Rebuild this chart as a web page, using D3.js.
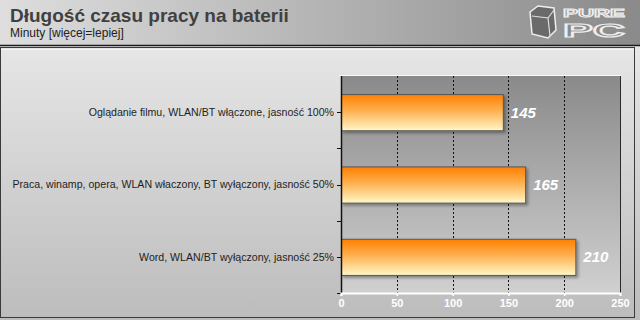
<!DOCTYPE html>
<html>
<head>
    <style>
        body { margin: 0; background: #fff; }
        svg { display: block; font-family: Arial, "Liberation Sans", sans-serif; }
        .cat-label { font-size: 10.6px; fill: #1e1e1e; }
        .val-label { font-size: 15px; font-weight: bold; font-style: italic; fill: #fff; }
        .x-axis text { font-size: 11px; font-weight: bold; fill: #fff; }
    </style>
</head>
<body>
    <div id="chart"></div>
    <script src="https://d3js.org/d3.v7.min.js"></script>
    <script>
        // chart data
        const categories = [
            "Oglądanie filmu, WLAN/BT włączone, jasność 100%",
            "Praca, winamp, opera, WLAN właczony, BT wyłączony, jasność 50%",
            "Word, WLAN/BT wyłączony, jasność 25%"
        ];
        const values = [145, 165, 210];
        const xTicks = [0, 50, 100, 150, 200, 250];
        const title = "Długość czasu pracy na baterii";
        const subtitle = "Minuty [więcej=lepiej]";

        const width = 640, height = 320;
        const plot = { left: 341, right: 620, top: 76, bottom: 293 };

        const svg = d3.select("#chart").append("svg")
            .attr("width", width)
            .attr("height", height);

        const defs = svg.append("defs");

        function grad(id, x2, y2, stops) {
            const g = defs.append("linearGradient")
                .attr("id", id)
                .attr("x1", 0).attr("y1", 0)
                .attr("x2", x2).attr("y2", y2);
            stops.forEach(s => g.append("stop").attr("offset", s[0]).attr("stop-color", s[1]));
        }
        grad("headerGrad", 1, 0, [[0, "#dedede"], [0.5, "#b4b4b4"], [1, "#8a8a8a"]]);
        grad("bodyGrad", 0, 1, [[0, "#e6e6e6"], [1, "#bcbcbc"]]);
        grad("plotGrad", 0, 1, [[0, "#8a8a8a"], [1, "#d0d0d0"]]);
        grad("barGrad", 0, 1, [[0, "#ff8000"], [0.45, "#ffb050"], [1, "#fff8c8"]]);

        const shadow = defs.append("filter").attr("id", "shadow")
            .attr("x", "-10%").attr("y", "-30%").attr("width", "130%").attr("height", "170%");
        shadow.append("feDropShadow")
            .attr("dx", 2).attr("dy", 2).attr("stdDeviation", 1.5)
            .attr("flood-color", "#000").attr("flood-opacity", 0.35);

        // background body
        svg.append("rect")
            .attr("x", 0).attr("y", 46).attr("width", width).attr("height", height - 46)
            .attr("fill", "url(#bodyGrad)");
        svg.append("rect")
            .attr("x", 0.5).attr("y", 47.5).attr("width", 634).attr("height", 270)
            .attr("fill", "none").attr("stroke", "#3a3a3a").attr("stroke-width", 1);
        svg.append("line")
            .attr("x1", 1).attr("x2", 634).attr("y1", 49.5).attr("y2", 49.5)
            .attr("stroke", "#f4f4f4");

        // header
        svg.append("rect")
            .attr("x", 0).attr("y", 0).attr("width", width).attr("height", 45)
            .attr("fill", "url(#headerGrad)");
        svg.append("line")
            .attr("x1", 0).attr("x2", width).attr("y1", 45.5).attr("y2", 45.5)
            .attr("stroke", "#1a1a1a").attr("stroke-width", 1.5);

        svg.append("text")
            .attr("x", 10).attr("y", 22)
            .style("font-size", "19px").style("font-weight", "bold").style("fill", "#404040")
            .text(title);
        svg.append("text")
            .attr("x", 10).attr("y", 37)
            .style("font-size", "12px").style("fill", "#222")
            .text(subtitle);

        // logo
        const logo = svg.append("g").attr("transform", "translate(528,4)");
        logo.append("path")
            .attr("d", "M2,8 L10,2 L26,4 L28,26 L20,34 L4,30 Z")
            .attr("fill", "#6a6a6a").attr("stroke", "#eee").attr("stroke-width", 1.5);
        logo.append("path")
            .attr("d", "M4,12 L20,14 L22,32 M20,14 L26,6")
            .attr("fill", "none").attr("stroke", "#ddd").attr("stroke-width", 1.2);
        logo.append("text")
            .attr("x", 35).attr("y", 13)
            .attr("textLength", 62).attr("lengthAdjust", "spacingAndGlyphs")
            .style("font-size", "10px").style("font-weight", "bold")
            .style("fill", "#8a8a8a").style("stroke", "#eee").style("stroke-width", 0.9)
            .text("PURE");
        logo.append("text")
            .attr("x", 35).attr("y", 33)
            .attr("textLength", 62).attr("lengthAdjust", "spacingAndGlyphs")
            .style("font-size", "18px").style("font-weight", "bold")
            .style("fill", "#8a8a8a").style("stroke", "#eee").style("stroke-width", 1.2)
            .text("PC");

        // scales
        const x = d3.scaleLinear().domain([0, 250]).range([plot.left, plot.right]);
        const y = d3.scaleBand().domain(categories)
            .range([plot.top, plot.bottom])
            .paddingInner(0.5).paddingOuter(0.25);

        // plot background
        svg.append("rect")
            .attr("x", plot.left).attr("y", plot.top)
            .attr("width", plot.right - plot.left).attr("height", plot.bottom - plot.top)
            .attr("fill", "url(#plotGrad)");
        svg.append("line")
            .attr("x1", plot.left - 2).attr("x2", plot.right + 1)
            .attr("y1", plot.top - 0.5).attr("y2", plot.top - 0.5)
            .attr("stroke", "#fafafa");
        svg.append("line")
            .attr("x1", plot.right + 0.5).attr("x2", plot.right + 0.5)
            .attr("y1", plot.top).attr("y2", plot.bottom)
            .attr("stroke", "#2a2a2a");

        // grid
        svg.append("g").selectAll("line")
            .data(xTicks.filter(d => d > 0 && d < 250))
            .enter().append("line")
            .attr("x1", d => Math.round(x(d)) + 0.5).attr("x2", d => Math.round(x(d)) + 0.5)
            .attr("y1", plot.top).attr("y2", plot.bottom)
            .attr("stroke", "#111").attr("stroke-dasharray", "2,2");

        // bars
        svg.append("g").selectAll("rect")
            .data(values)
            .enter().append("rect")
            .attr("x", x(0) + 0.5)
            .attr("y", (d, i) => y(categories[i]) + 0.5)
            .attr("width", d => x(d) - x(0))
            .attr("height", y.bandwidth())
            .attr("fill", "url(#barGrad)")
            .attr("stroke", "#555")
            .attr("stroke-width", 1)
            .attr("filter", "url(#shadow)");

        svg.append("g").selectAll("text")
            .data(values)
            .enter().append("text")
            .attr("class", "val-label")
            .attr("x", d => x(d) + 8)
            .attr("y", (d, i) => y(categories[i]) + y.bandwidth() / 2)
            .attr("dy", "0.36em")
            .text(d => d);

        // y axis
        const yAxis = svg.append("g")
            .attr("transform", `translate(${plot.left},0)`);
        yAxis.append("line")
            .attr("x1", 0.5).attr("x2", 0.5)
            .attr("y1", plot.top).attr("y2", plot.bottom)
            .attr("stroke", "#111").attr("stroke-width", 1.5);
        const bounds = categories.map(c => y(c) - y.step() * y.paddingInner() / 2 + y.step());
        yAxis.selectAll(".bt").data(bounds)
            .enter().append("line")
            .attr("x1", -4).attr("x2", 0)
            .attr("y1", d => Math.round(d) + 0.5).attr("y2", d => Math.round(d) + 0.5)
            .attr("stroke", "#111");
        yAxis.selectAll(".ct").data(categories)
            .enter().append("line")
            .attr("x1", -4).attr("x2", 0)
            .attr("y1", d => Math.round(y(d) + y.bandwidth() / 2) + 0.5)
            .attr("y2", d => Math.round(y(d) + y.bandwidth() / 2) + 0.5)
            .attr("stroke", "#111");
        yAxis.selectAll("text").data(categories)
            .enter().append("text")
            .attr("class", "cat-label")
            .attr("x", -7)
            .attr("y", d => y(d) + y.bandwidth() / 2)
            .attr("dy", "0.35em")
            .attr("text-anchor", "end")
            .text(d => d);

        // x axis
        const xAxis = svg.append("g")
            .attr("class", "x-axis")
            .attr("transform", `translate(0,${plot.bottom})`)
            .call(d3.axisBottom(x).tickValues(xTicks).tickSize(3).tickPadding(3));
        xAxis.select(".domain").attr("stroke", "#fff").attr("stroke-width", 2);
        xAxis.selectAll(".tick line").attr("stroke", "#fff").attr("stroke-width", 1.5);
    </script>
</body>
</html>
